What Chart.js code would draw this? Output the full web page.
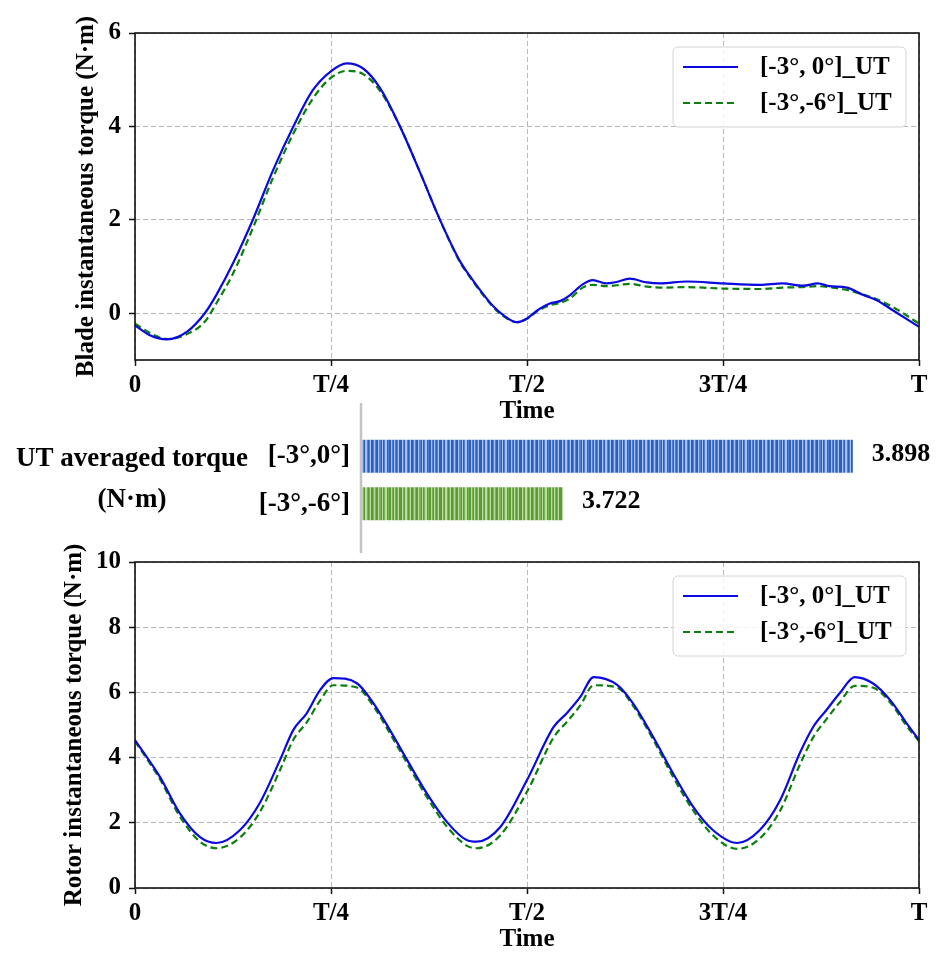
<!DOCTYPE html>
<html lang="en">
<head>
<meta charset="UTF-8">
<title>Blade and rotor instantaneous torque</title>
<script src="https://cdn.jsdelivr.net/npm/chart.js"></script>
<style>
    body {
        margin: 0;
        padding: 0;
        background: #fff;
        width: 937px;
        height: 958px;
        position: relative;
        overflow: hidden;
    }
    canvas { position: absolute; left: 0; }
    #bladeChart { top: 0; }
    #rotorChart { top: 530px; }
    #avgChart { top: 395px; }
</style>
</head>
<body>
<canvas id="bladeChart" width="937" height="430"></canvas>
<canvas id="rotorChart" width="937" height="428"></canvas>
<canvas id="avgChart" width="937" height="165"></canvas>
<script>
// time is given as a fraction of one period T
const xTickVals = [0, 0.25, 0.5, 0.75, 1];
const xTickLabels = ['0', 'T/4', 'T/2', '3T/4', 'T'];
const seriesNames = ['[-3°, 0°]_UT', '[-3°,-6°]_UT'];

// blade instantaneous torque (N·m)
const bladeTime = [0, 0.019, 0.041, 0.066, 0.089, 0.104, 0.125, 0.151, 0.176, 0.202,
    0.227, 0.249, 0.270, 0.291, 0.313, 0.338, 0.364, 0.389, 0.415, 0.427,
    0.440, 0.457, 0.469, 0.487, 0.5, 0.513, 0.529, 0.542, 0.555, 0.571,
    0.584, 0.601, 0.614, 0.631, 0.653, 0.670, 0.704, 0.75, 0.797, 0.826,
    0.852, 0.871, 0.886, 0.908, 0.929, 0.946, 0.967, 1];
const bladeUT0 = [-0.26, -0.47, -0.56, -0.40, 0.0, 0.40, 1.07, 2.03, 3.06, 4.0,
    4.78, 5.17, 5.35, 5.24, 4.81, 4.0, 3.0, 2.0, 1.10, 0.80,
    0.50, 0.15, -0.03, -0.19, -0.11, 0.06, 0.21, 0.26, 0.39, 0.62,
    0.71, 0.64, 0.67, 0.74, 0.66, 0.64, 0.68, 0.64, 0.61, 0.64,
    0.59, 0.64, 0.58, 0.55, 0.39, 0.28, 0.06, -0.29];
const bladeUT6 = [-0.22, -0.42, -0.55, -0.45, -0.18, 0.22, 0.85, 1.85, 2.90, 3.85,
    4.60, 5.03, 5.19, 5.12, 4.75, 4.0, 3.0, 2.0, 1.08, 0.78,
    0.48, 0.13, -0.05, -0.19, -0.12, 0.04, 0.17, 0.22, 0.32, 0.55,
    0.61, 0.58, 0.60, 0.63, 0.57, 0.55, 0.56, 0.53, 0.52, 0.55,
    0.56, 0.58, 0.56, 0.50, 0.40, 0.30, 0.13, -0.22];
const bladeYTicks = [0, 2, 4, 6];

// rotor instantaneous torque (N·m)
const rotorTime = [0, 0.032, 0.057, 0.083, 0.104, 0.134, 0.159, 0.185, 0.202, 0.219,
    0.236, 0.253, 0.283, 0.304, 0.325, 0.347, 0.372, 0.398, 0.423, 0.436,
    0.466, 0.5, 0.534, 0.551, 0.568, 0.585, 0.615, 0.635, 0.661, 0.686,
    0.712, 0.737, 0.768, 0.797, 0.823, 0.848, 0.865, 0.882, 0.899, 0.918,
    0.941, 0.963, 0.984, 1];
const rotorUT0 = [4.54, 3.40, 2.30, 1.56, 1.38, 1.78, 2.60, 3.93, 4.85, 5.36,
    6.07, 6.44, 6.28, 5.67, 4.85, 3.93, 2.91, 2.02, 1.47, 1.42,
    1.87, 3.31, 4.94, 5.37, 5.86, 6.47, 6.23, 5.67, 4.63, 3.53,
    2.49, 1.78, 1.38, 1.78, 2.70, 4.14, 4.94, 5.46, 5.98, 6.47,
    6.28, 5.77, 5.06, 4.54];
const rotorUT6 = [4.50, 3.33, 2.20, 1.42, 1.22, 1.55, 2.32, 3.62, 4.55, 5.08,
    5.75, 6.22, 6.15, 5.58, 4.75, 3.83, 2.80, 1.88, 1.30, 1.22,
    1.62, 2.95, 4.62, 5.10, 5.60, 6.22, 6.15, 5.60, 4.55, 3.42,
    2.38, 1.62, 1.20, 1.52, 2.38, 3.78, 4.62, 5.18, 5.70, 6.20,
    6.15, 5.70, 4.98, 4.50];
const rotorYTicks = [0, 2, 4, 6, 8, 10];

// UT averaged torque
const barLabels = ['[-3°,0°]', '[-3°,-6°]'];
const barValues = [3.898, 3.722];

const serif = "'Liberation Serif', 'Times New Roman', serif";
Chart.defaults.font.family = serif;
Chart.defaults.font.weight = 'bold';
Chart.defaults.color = '#000';
const lineColors = ['#0a0ae0', '#0a800a'];

function pts(xs, ys) {
    return xs.map((x, i) => ({ x: x, y: ys[i] }));
}

// box round the plot + legend in the upper right corner
const framePlugin = {
    id: 'frame',
    afterDraw(chart) {
        const { ctx, chartArea: a } = chart;
        ctx.save();
        ctx.strokeStyle = '#111';
        ctx.lineWidth = 1.6;
        ctx.strokeRect(a.left, a.top, a.right - a.left, a.bottom - a.top);

        const bx = a.right - 246, by = a.top + 14, bw = 233, bh = 80;
        ctx.beginPath();
        ctx.roundRect(bx, by, bw, bh, 5);
        ctx.fillStyle = 'rgba(255,255,255,0.8)';
        ctx.fill();
        ctx.strokeStyle = '#d4d4d4';
        ctx.lineWidth = 1;
        ctx.stroke();

        ctx.font = 'bold 25px ' + serif;
        ctx.textBaseline = 'middle';
        ctx.fillStyle = '#000';
        seriesNames.forEach((name, i) => {
            const y = by + 20 + i * 36;
            ctx.beginPath();
            ctx.setLineDash(i === 0 ? [] : [7, 4]);
            ctx.strokeStyle = lineColors[i];
            ctx.lineWidth = 2.2;
            ctx.moveTo(bx + 10, y);
            ctx.lineTo(bx + 65, y);
            ctx.stroke();
            ctx.setLineDash([]);
            ctx.fillText(name, bx + 87, y + 1);
        });
        ctx.restore();
    }
};

function lineChart(id, xs, ys0, ys6, yMin, yMax, yTicks, yTitle, padTop, titlePad) {
    return new Chart(document.getElementById(id), {
        type: 'line',
        data: {
            datasets: [
                {
                    label: seriesNames[0],
                    data: pts(xs, ys0),
                    borderColor: lineColors[0],
                    borderWidth: 2.2,
                    pointRadius: 0,
                    cubicInterpolationMode: 'monotone'
                },
                {
                    label: seriesNames[1],
                    data: pts(xs, ys6),
                    borderColor: lineColors[1],
                    borderWidth: 2.2,
                    borderDash: [7, 4],
                    pointRadius: 0,
                    cubicInterpolationMode: 'monotone'
                }
            ]
        },
        options: {
            responsive: false,
            animation: false,
            layout: { padding: { top: padTop, right: 18, left: 0, bottom: 0 } },
            plugins: { legend: { display: false }, tooltip: { enabled: false } },
            scales: {
                x: {
                    type: 'linear',
                    min: 0,
                    max: 1,
                    afterBuildTicks: s => { s.ticks = xTickVals.map(v => ({ value: v })); },
                    afterFit: s => { s.height = 70; },
                    ticks: {
                        autoSkip: false,
                        maxRotation: 0,
                        padding: 5,
                        font: { size: 25, weight: 'bold' },
                        callback: (v, i) => xTickLabels[i]
                    },
                    grid: {
                        color: '#b9b9b9',
                        lineWidth: 1,
                        tickColor: '#111',
                        tickWidth: 1.5,
                        tickLength: 6
                    },
                    border: { display: false, dash: [5, 3] },
                    title: {
                        display: true,
                        text: 'Time',
                        font: { size: 25, weight: 'bold' },
                        padding: { top: 0, bottom: 3 }
                    }
                },
                y: {
                    type: 'linear',
                    min: yMin,
                    max: yMax,
                    afterBuildTicks: s => { s.ticks = yTicks.map(v => ({ value: v })); },
                    afterFit: s => { s.width = 135; },
                    ticks: {
                        padding: 8,
                        font: { size: 25, weight: 'bold' }
                    },
                    grid: {
                        color: '#b9b9b9',
                        lineWidth: 1,
                        tickColor: '#111',
                        tickWidth: 1.5,
                        tickLength: 6
                    },
                    border: { display: false, dash: [5, 3] },
                    title: {
                        display: true,
                        text: yTitle,
                        font: { size: 25, weight: 'bold' },
                        padding: { top: titlePad, bottom: 0 }
                    }
                }
            }
        },
        plugins: [framePlugin]
    });
}

lineChart('bladeChart', bladeTime, bladeUT0, bladeUT6, -1, 6, bladeYTicks,
    'Blade instantaneous torque (N·m)', 33, 72);
lineChart('rotorChart', rotorTime, rotorUT0, rotorUT6, 0, 10, rotorYTicks,
    'Rotor instantaneous torque (N·m)', 32, 60);

// striped fill like the original bars
function stripes(ctx, colors) {
    const seq = [0, 0, 2, 1, 0, 2, 2, 1, 0, 1, 2, 0, 0, 1, 2, 1, 0, 0, 2, 1,
        1, 0, 2, 0, 1, 2, 2, 0, 1, 0, 0, 2, 1, 0, 2, 1, 0, 1, 2, 0];
    const c = document.createElement('canvas');
    c.width = seq.length;
    c.height = 4;
    const g = c.getContext('2d');
    seq.forEach((k, i) => {
        g.fillStyle = colors[k];
        g.fillRect(i, 0, 1, 4);
    });
    return ctx.createPattern(c, 'repeat');
}

const avgCanvas = document.getElementById('avgChart');
const actx = avgCanvas.getContext('2d');
const bluePattern = stripes(actx, ['#2c5fc0', '#4f80d4', '#a9c2ec']);
const greenPattern = stripes(actx, ['#5c9b34', '#78b450', '#bcdca6']);

const avgPlugin = {
    id: 'avgDecor',
    afterDraw(chart) {
        const { ctx, chartArea: a } = chart;
        ctx.save();
        // separator line
        ctx.strokeStyle = '#c4c4c4';
        ctx.lineWidth = 2.5;
        ctx.beginPath();
        ctx.moveTo(a.left - 1, a.top - 29.5);
        ctx.lineTo(a.left - 1, a.bottom + 25.5);
        ctx.stroke();

        ctx.fillStyle = '#000';
        ctx.textAlign = 'center';
        ctx.textBaseline = 'middle';
        ctx.font = 'bold 27px ' + serif;
        ctx.fillText('UT averaged torque', 132, a.top + 27);
        ctx.fillText('(N·m)', 132, a.top + 68);

        // value labels
        ctx.textAlign = 'left';
        ctx.font = 'bold 26px ' + serif;
        chart.getDatasetMeta(0).data.forEach((bar, i) => {
            ctx.fillText(barValues[i].toFixed(3), bar.x + 19, bar.y - 2);
        });
        ctx.restore();
    }
};

new Chart(avgCanvas, {
    type: 'bar',
    data: {
        labels: barLabels,
        datasets: [{
            data: barValues,
            backgroundColor: [bluePattern, greenPattern],
            borderWidth: 0,
            barPercentage: 0.69,
            categoryPercentage: 1
        }]
    },
    options: {
        indexAxis: 'y',
        responsive: false,
        animation: false,
        layout: { padding: { top: 37.5, bottom: 32.5, right: 15, left: 0 } },
        plugins: { legend: { display: false }, tooltip: { enabled: false } },
        scales: {
            x: { type: 'linear', min: 3.6, max: 3.94, display: false },
            y: {
                afterFit: s => { s.width = 362; },
                grid: { display: false, drawTicks: false },
                border: { display: false },
                ticks: { padding: 12, font: { size: 27, weight: 'bold' } }
            }
        }
    },
    plugins: [avgPlugin]
});
</script>
</body>
</html>
